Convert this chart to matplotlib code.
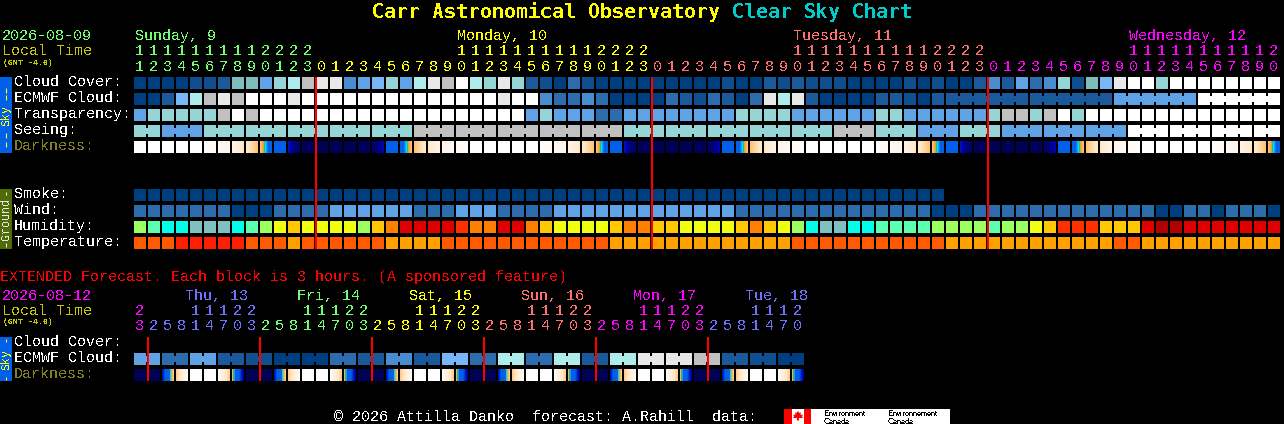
import numpy as np
import matplotlib
matplotlib.use('Agg')
import matplotlib.pyplot as plt
from matplotlib.colors import LinearSegmentedColormap

plt.rcParams['text.antialiased'] = False
plt.rcParams['text.hinting'] = 'native'
plt.rcParams['text.hinting_factor'] = 1

# cloud / transparency / seeing / wind palette, 0 = overcast, 12 = clear
sky_colors = ['#003f7f', '#0f4f8f', '#1a5a9a', '#2c6cac', '#4a8cd0', '#60a2e6', '#77b6f7',
              '#7fbcbc', '#95d5d5', '#aeecec', '#c0c0c0', '#e8e8e8', '#ffffff']

humid_colors = ['#b00000', '#e00000', '#ff3000', '#ff8000', '#ffc800', '#f0ff10',
                '#9cff60', '#5cffb0', '#00ffe8', '#80c0c0']
temp_colors = ['#ff1e00', '#ff5a00', '#ffa000']

# top block, 82 hours from 11:00 sunday
top_hours = [11, 12, 13, 14, 15, 16, 17, 18, 19, 20, 21, 22, 23,
             0, 1, 2, 3, 4, 5, 6, 7, 8, 9, 10, 11, 12, 13, 14, 15, 16, 17, 18, 19, 20, 21, 22, 23,
             0, 1, 2, 3, 4, 5, 6, 7, 8, 9, 10, 11, 12, 13, 14, 15, 16, 17, 18, 19, 20, 21, 22, 23,
             0, 1, 2, 3, 4, 5, 6, 7, 8, 9, 10, 11, 12, 13, 14, 15, 16, 17, 18, 19, 20]
top_day_cells = [13, 24, 24, 21]
top_day_names = ['Sunday, 9', 'Monday, 10', 'Tuesday, 11', 'Wednesday, 12']
top_day_x = [135, 457, 793, 1129]
top_day_colors = ['#70ff70', '#ffff00', '#ff7070', '#ff00ff']

cloud = [0, 0, 0, 0, 1, 1, 2, 7, 7, 5, 8, 9, 10, 11, 11, 4, 5, 6, 8, 5, 9,
         11, 10, 12, 9, 8, 11, 8, 2, 1, 0, 3, 1, 0, 0, 0, 0, 0, 0, 0, 0, 0, 1, 0, 0,
         2, 1, 2, 1, 1, 1, 0, 0, 0, 0, 1, 0, 1, 0, 0, 2, 4, 2, 5, 3, 4, 8, 1, 7, 6, 11,
         12, 12, 8, 12, 12, 12, 12, 12, 12, 12, 12]
ecmwf = [0, 0, 2, 6, 9, 10, 11, 10, 12, 12, 12, 11, 12, 12, 12, 12, 12, 12, 12, 12, 12,
         12, 12, 12, 12, 12, 11, 12, 12, 4, 3, 3, 4, 3, 0, 0, 0, 0, 3, 2, 1, 3, 2, 0, 3,
         11, 9, 11, 2, 0, 0, 0, 0, 2, 2, 1, 0, 2,
         2, 2, 2, 2, 2, 2, 2, 2, 2, 2, 2, 2,
         5, 5, 5, 5, 5, 5, 12, 12, 12, 12, 12, 12]
ecmwf_blocks = [1] * 58 + [6, 6, 6, 6]
transparency = [5, 8, 8, 8, 8, 8, 10, 12, 10, 12, 12, 12, 12, 12, 12, 12, 12, 12, 12, 12, 12,
                12, 12, 12, 12, 12, 12, 12, 5, 8, 5, 5, 5, 3, 3, 5, 5, 5, 5, 5, 5, 5, 5, 8, 8, 8, 8,
                5, 5, 5, 5, 5, 5, 8, 8, 5, 5, 5, 5, 5, 5, 8, 10, 10, 8, 10, 12, 8,
                12, 12, 12, 12, 12, 12, 12, 12, 12, 12, 12, 12, 12, 12]
seeing = [8, 8, 5, 5, 5, 8, 8, 8, 8, 8, 8, 8, 8, 8, 8, 8, 8, 8, 8, 8,
          10, 10, 10, 10, 10, 10, 10, 10, 10, 10, 10, 10, 10, 10, 10,
          8, 8, 8, 8, 8, 8, 8, 8, 8, 8, 8, 8, 8, 8, 8,
          10, 10, 10, 8, 8, 8, 5, 5, 5, 8, 8, 8, 5, 5, 5, 5, 5, 5, 5, 5, 5,
          12, 12, 12, 12, 12, 12, 12, 12, 12, 12, 12]
seeing_blocks = [2] + [3] * 26 + [2]

# darkness at left and right side of each hour cell, 0 = daylight, 1 = full dark
dark_left = [0, 0, 0, 0, 0, .02, .05, .1, .17, .3, .5, .72, .95, 1, 1, 1, .98, .9, .58, .5, .3, .17, .08, .04,
             0, 0, 0, 0, 0, .02, .05, .1, .17, .3, .5, .72, .95, 1, 1, 1, .98, .9, .58, .5, .3, .17, .08, .04,
             0, 0, 0, 0, 0, .02, .05, .1, .17, .3, .5, .72, .95, 1, 1, 1, .98, .9, .58, .5, .3, .17, .08, .04,
             0, 0, 0, 0, 0, .02, .05, .1, .17, .3]
dark_right = [0, 0, 0, 0, 0, .04, .08, .17, .3, .5, .58, .9, .98, 1, 1, 1, .95, .74, .5, .3, .17, .1, .05, .02,
              0, 0, 0, 0, 0, .04, .08, .17, .3, .5, .58, .9, .98, 1, 1, 1, .95, .74, .5, .3, .17, .1, .05, .02,
              0, 0, 0, 0, 0, .04, .08, .17, .3, .5, .58, .9, .98, 1, 1, 1, .95, .74, .5, .3, .17, .1, .05, .02,
              0, 0, 0, 0, 0, .04, .08, .17, .3, .5]

smoke = [0] * 58
wind = [3, 3, 3, 3, 3, 3, 3, 0, 0, 0, 3, 3, 3, 3, 5, 5, 5, 5, 5, 5, 3,
        3, 3, 5, 5, 5, 3, 3, 3, 3, 5, 5, 5, 5, 5, 5, 5, 5, 5, 5, 5, 5, 5, 3, 3, 3, 3, 3, 3, 3, 3, 3,
        3, 3, 3, 3, 3, 0, 0, 0, 3, 3, 3, 3, 3, 3, 3, 3, 3, 3, 3, 3, 3, 0, 0, 3, 3, 0, 3, 3, 3, 0]
humidity = [6, 7, 8, 8, 9, 9, 9, 8, 7, 6, 5, 4, 5, 5, 5, 5, 6, 4, 3, 1, 1,
            1, 1, 2, 3, 3, 1, 1, 3, 4, 5, 5, 5, 5, 4, 3, 3, 4, 4, 5, 5, 5, 5, 4, 3, 4, 5, 6, 8, 9, 9, 8,
            8, 7, 7, 7, 7, 6, 6, 6, 6, 7, 6, 6, 5, 4, 2, 2, 2, 4, 4, 4, 1, 0, 0, 1, 1, 1, 1, 1, 1, 1]
temperature = [1, 1, 1, 0, 0, 0, 0, 0, 1, 1, 1, 2, 1, 1, 1, 1, 1, 1, 2, 2, 2,
               2, 1, 1, 1, 1, 1, 1, 1, 1, 1, 1, 1, 1, 2, 2, 2, 2, 2, 2, 2, 2, 2, 2, 2, 2, 2, 1, 1, 1, 1, 1,
               1, 1, 1, 1, 1, 1, 2, 2, 2, 2, 2, 2, 2, 2, 2, 2, 2, 2, 1, 1, 2, 2, 2, 2, 2, 2, 2, 2, 2, 2]

# extended block, 48 cells of 3 hours
ext_hours = [23, 2, 5, 8, 11, 14, 17, 20, 23, 2, 5, 8, 11, 14, 17, 20, 23, 2, 5, 8, 11, 14, 17, 20, 23,
             2, 5, 8, 11, 14, 17, 20, 23, 2, 5, 8, 11, 14, 17, 20, 23, 2, 5, 8, 11, 14, 17, 20]
ext_day_cells = [1, 8, 8, 8, 8, 8, 7]
ext_day_names = ['Thu, 13', 'Fri, 14', 'Sat, 15', 'Sun, 16', 'Mon, 17', 'Tue, 18']
ext_day_x = [185, 297, 409, 521, 633, 745]
ext_day_colors = ['#ff00ff', '#7070ff', '#70ff70', '#ffff00', '#ff7070', '#ff00ff', '#7070ff']
ext_ecmwf = [5, 5, 3, 3, 5, 5, 2, 2, 1, 1, 0, 0, 0, 0, 3, 3, 2, 2, 4, 4, 2, 2, 6, 6,
             3, 3, 9, 9, 3, 3, 9, 9, 2, 2, 9, 9, 11, 11, 11, 11, 10, 10, 2, 2, 1, 1, 0, 0]
ext_blocks = [2] * 24
ext_dark_left = [1, 1, .72, .27, 0, 0, .03, .33] * 6
ext_dark_right = [1, 1, .27, .03, 0, 0, .27, .78] * 6

dark_cmap = LinearSegmentedColormap.from_list('darkness', [
    (0, '#ffffff'), (.1, '#fff3e4'), (.2, '#ffe6c4'), (.3, '#ffc070'), (.35, '#ffa030'),
    (.37, '#30b090'), (.39, '#00e0ff'), (.42, '#0090f0'), (.44, '#0060e8'), (.6, '#0060e8'),
    (.75, '#0000b0'), (.85, '#000070'), (1, '#000055')], N=512)

X0 = 134
STEP = 14
CELL = 12
MONO = 'Liberation Mono'

fig = plt.figure(figsize=(12.84, 4.24), dpi=100, facecolor='black')
ax = fig.add_axes([0, 0, 1, 1])
ax.set_facecolor('black')
ax.set_xlim(0, 1284)
ax.set_ylim(424, 0)
ax.axis('off')


def txt(x, y, s, color='white', px=15, **kw):
    kw.setdefault('family', MONO)
    ax.text(x, y, s, color=color, fontsize=px * 0.72, va='baseline', **kw)


def row(y, levels, colors, blocks=None):
    xs = X0 + STEP * np.arange(len(levels))
    cols = [colors[v] for v in levels]
    ax.bar(xs, CELL, CELL, y, color=cols, align='edge', linewidth=0, zorder=2)
    if blocks is None:
        return
    # blocks that share one value get joined with a narrow piece in the gap
    i = 0
    for n in blocks:
        for k in range(i, i + n - 1):
            ax.bar(xs[k] + CELL, 6, STEP - CELL, y + 3, color=cols[k], align='edge', linewidth=0, zorder=2)
        i += n


def dark_row(y, left, right):
    for i, (a, b) in enumerate(zip(left, right)):
        x = X0 + STEP * i
        ax.imshow([np.linspace(a, b, CELL)], cmap=dark_cmap, vmin=0, vmax=1, aspect='auto',
                  extent=(x, x + CELL, y + CELL, y), interpolation='nearest', zorder=2)


def side_bar(y0, y1, color, text, text_color, dashes):
    ax.bar(0, y1 - y0, 12, y0, color=color, align='edge', linewidth=0, zorder=2)
    for a, b in dashes:
        ax.plot([6, 6], [a, b], color=text_color, lw=0.8, zorder=3, solid_capstyle='butt')
    ax.text(6, (y0 + y1) / 2, text, color=text_color, fontsize=8.4, family=MONO, rotation=90,
            ha='center', va='center', zorder=3)


def red_lines(xs, y0, height):
    ax.bar(np.array(xs) - 1, height, 2, y0, color='#ff0000', align='edge', linewidth=0, zorder=4, snap=False)


def hour_digits(hours, day_cells, colors, y_tens, y_ones):
    idx = np.repeat(np.arange(len(day_cells)), day_cells)
    for i, h in enumerate(hours):
        x = X0 + STEP * i + CELL / 2 - 0.5
        c = colors[idx[i]]
        if h >= 10:
            txt(x, y_tens, str(h // 10), c, ha='center')
        txt(x, y_ones, str(h % 10), c, ha='center')


# title
title_a = 'Carr Astronomical Observatory '
txt(372, 18, title_a, '#ffff00', px=20, family='DejaVu Sans Mono', weight='bold')
txt(372 + 12 * len(title_a), 18, 'Clear Sky Chart', '#00cccc', px=20, family='DejaVu Sans Mono', weight='bold')

# top header
txt(2, 40, '2026-08-09', '#70ff70')
txt(2, 55, 'Local Time', '#c8c800')
txt(3, 65, '(GMT -4.0)', '#c8c800', px=8, weight='bold')
for name, x, c in zip(top_day_names, top_day_x, top_day_colors):
    txt(x, 40, name, c)
hour_digits(top_hours, top_day_cells, top_day_colors, 55, 71)

# sky rows
row(77, cloud, sky_colors)
row(93, ecmwf, sky_colors, ecmwf_blocks)
row(109, transparency, sky_colors)
row(125, seeing, sky_colors, seeing_blocks)
dark_row(141, dark_left, dark_right)
for y, name, c in [(86, 'Cloud Cover:', 'white'), (102, 'ECMWF Cloud:', 'white'), (118, 'Transparency:', 'white'),
                   (134, 'Seeing:', 'white'), (150, 'Darkness:', '#808020')]:
    txt(14, y, name, c)
side_bar(77, 153, '#0060e8', 'Sky', '#ffff00', [(88, 93), (95, 100), (133, 138), (142, 147)])

# ground rows
row(189, smoke, sky_colors)
row(205, wind, sky_colors)
row(221, humidity, humid_colors)
row(237, temperature, temp_colors)
for y, name in [(198, 'Smoke:'), (214, 'Wind:'), (230, 'Humidity:'), (246, 'Temperature:')]:
    txt(14, y, name)
side_bar(189, 249, '#4f6b08', 'Ground', '#e8e8e8', [(192, 195), (243, 247)])

# midnight lines
red_lines([316, 652, 988], 77, 172)

# extended block
txt(0, 281, 'EXTENDED Forecast. Each block is 3 hours. (A sponsored feature)', '#ff0000')
txt(2, 300, '2026-08-12', '#ff00ff')
txt(2, 315, 'Local Time', '#c8c800')
txt(3, 324, '(GMT -4.0)', '#c8c800', px=8, weight='bold')
for name, x, c in zip(ext_day_names, ext_day_x, ext_day_colors[1:]):
    txt(x, 300, name, c)
hour_digits(ext_hours, ext_day_cells, ext_day_colors, 315, 330)
row(353, ext_ecmwf, sky_colors, ext_blocks)
dark_row(369, ext_dark_left, ext_dark_right)
for y, name, c in [(346, 'Cloud Cover:', 'white'), (362, 'ECMWF Cloud:', 'white'), (378, 'Darkness:', '#808020')]:
    txt(14, y, name, c)
side_bar(337, 381, '#0060e8', 'Sky', '#ffff00', [(339, 342), (377, 380)])
red_lines([148, 260, 372, 484, 596, 708], 337, 44)

# footer and logo
txt(334, 421, '\u00a9 2026 Attilla Danko  forecast: A.Rahill  data:')
ax.bar(784, 15, 166, 409, color='white', align='edge', linewidth=0, zorder=2)
ax.bar(784, 15, 8, 409, color='#ff0000', align='edge', linewidth=0, zorder=3)
ax.bar(804, 15, 7, 409, color='#ff0000', align='edge', linewidth=0, zorder=3)
leaf_x = [798, 799.5, 801, 800.5, 803, 802, 803, 799, 799, 797, 797, 793, 794, 793, 795.5, 795, 796.5]
leaf_y = [411, 413, 412.5, 415, 414.5, 416.5, 418, 418, 420.5, 420.5, 418, 418, 416.5, 414.5, 415, 412.5, 413]
ax.fill(leaf_x, leaf_y, color='#ff0000', linewidth=0, zorder=3)
for x, w in [(824, 'Environment'), (888, 'Environnement')]:
    txt(x, 416, w, 'black', px=8.4, family='Liberation Sans', zorder=4)
    txt(x, 423.5, 'Canada', 'black', px=8.4, family='Liberation Sans', zorder=4)

ax.set_xlim(0, 1284)
ax.set_ylim(424, 0)
fig.savefig('out.png', dpi=100, facecolor='black')
